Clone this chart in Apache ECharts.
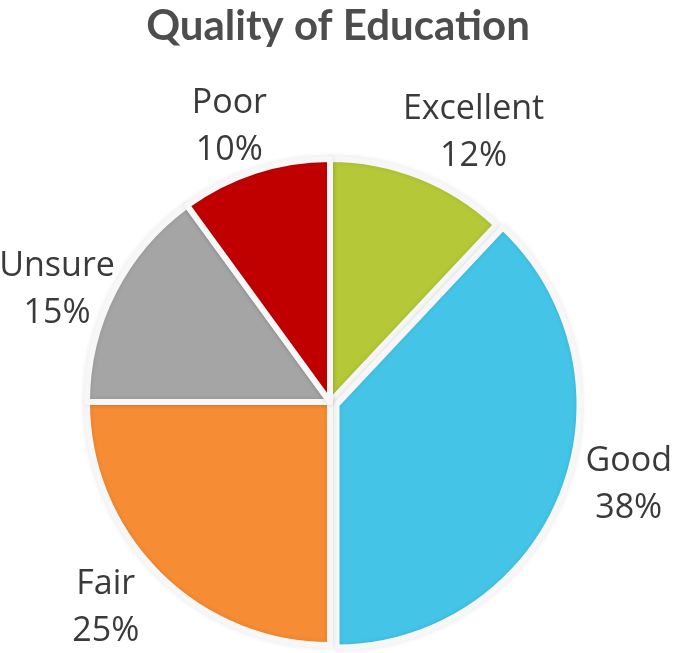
<!DOCTYPE html>
<html><head><meta charset="utf-8">
<script src="https://cdn.jsdelivr.net/npm/echarts@6/dist/echarts.min.js"></script>
<style>html,body{margin:0;padding:0;background:#fff}#c{width:676px;height:653px}</style>
</head><body><div id="c"></div>
<script>
const categories = ['Excellent', 'Good', 'Fair', 'Unsure', 'Poor'];
const values = [12, 38, 25, 15, 10];
const colors = ['#b5c837', '#44c5e7', '#f68c34', '#a5a5a5', '#c00000'];
const labelNudge = [[32, 13], [17, -29], [-10, -8], [-3, 25], [-7, 13]];

const pieData = categories.map((c, i) => ({
  name: c, value: values[i], selected: c === 'Good',
  itemStyle: { color: colors[i] }
}));
const labelData = categories.map((c, i) => ({ name: c, value: values[i] }));

const chart = echarts.init(document.getElementById('c'), null, { renderer: 'canvas' });
chart.setOption({
  animation: false,
  title: {
    text: 'Quality of Education', left: 'center', top: 0,
    textStyle: { fontFamily: 'Lato', fontWeight: 'bold', fontSize: 42, color: '#4d4d4d' }
  },
  series: [{
    type: 'pie', center: [330, 402], radius: 243, startAngle: 90, clockwise: true,
    selectedMode: 'single', selectedOffset: 7,
    label: { show: false }, labelLine: { show: false },
    emphasis: { disabled: true },
    itemStyle: { borderColor: '#f7f7f7', borderWidth: 6, shadowBlur: 5, shadowColor: 'rgba(0,0,0,0.10)' },
    data: pieData
  }, {
    type: 'pie', center: [330, 402], radius: [280, 320], startAngle: 90, clockwise: true,
    silent: true, itemStyle: { color: 'rgba(0,0,0,0)' },
    labelLine: { show: false },
    label: {
      show: true, position: 'inside', formatter: p => p.name + '\n' + p.value + '%',
      fontFamily: 'Open Sans', fontSize: 34, lineHeight: 47, color: '#3a3a3a'
    },
    labelLayout: p => ({ dx: labelNudge[p.dataIndex][0], dy: labelNudge[p.dataIndex][1] }),
    data: labelData
  }]
});
</script></body></html>
